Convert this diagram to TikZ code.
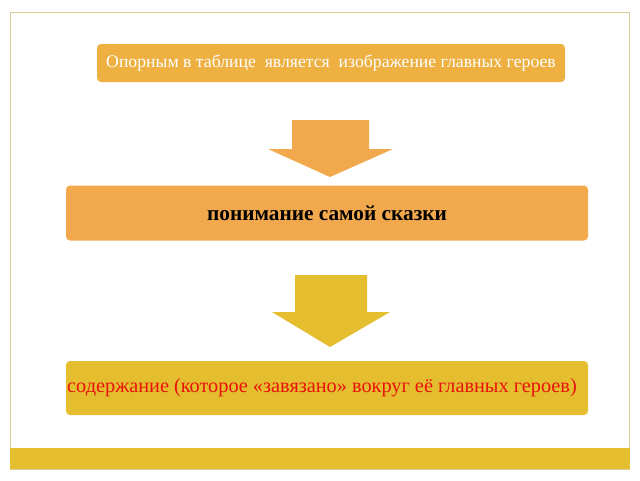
\documentclass[tikz,border=0pt]{standalone}
\usepackage{fontspec}
\setmainfont{Liberation Serif}
\definecolor{boxone}{HTML}{EDB041}
\definecolor{boxtwo}{HTML}{F2A94E}
\definecolor{gold}{HTML}{E5BE2F}
\definecolor{frametan}{HTML}{D9CC93}
\definecolor{redtext}{HTML}{E8120C}
\begin{document}
\begin{tikzpicture}[x=1pt,y=-1pt,
  blk/.style={rounded corners=4pt,inner sep=0pt,align=center}]
\useasboundingbox (0,0) rectangle (640,480);
\fill[white] (0,0) rectangle (640,480);
% frame and bottom bar
\draw[frametan,line width=1pt] (10,12) rectangle (629,469);
\fill[gold] (10,448) rectangle (629.5,469);
% boxes
\node[blk,fill=boxone,minimum width=468pt,minimum height=38pt,text=white,font=\fontsize{17.7}{19}\selectfont] (b1) at (331,63) {Опорным в таблице\ \ является\ \ изображение главных героев};
\node[blk,fill=boxtwo,minimum width=522pt,minimum height=55pt,text=black,font=\fontsize{21.3}{23}\selectfont\bfseries] (b2) at (327,213) {понимание самой сказки};
\node[blk,fill=gold,minimum width=522pt,minimum height=54pt,text=redtext,font=\fontsize{20.3}{22}\selectfont] (b3) at (327,388) {\hspace*{-10pt}содержание (которое «завязано» вокруг её главных героев)};
% block arrows
\fill[boxtwo] (292,120) -- (369,120) -- (369,149) -- (393,149) -- (330,177) -- (268,149) -- (292,149) -- cycle;
\fill[gold] (295,275) -- (367,275) -- (367,312) -- (390,312) -- (330,347) -- (272,312) -- (295,312) -- cycle;
\end{tikzpicture}
\end{document}
